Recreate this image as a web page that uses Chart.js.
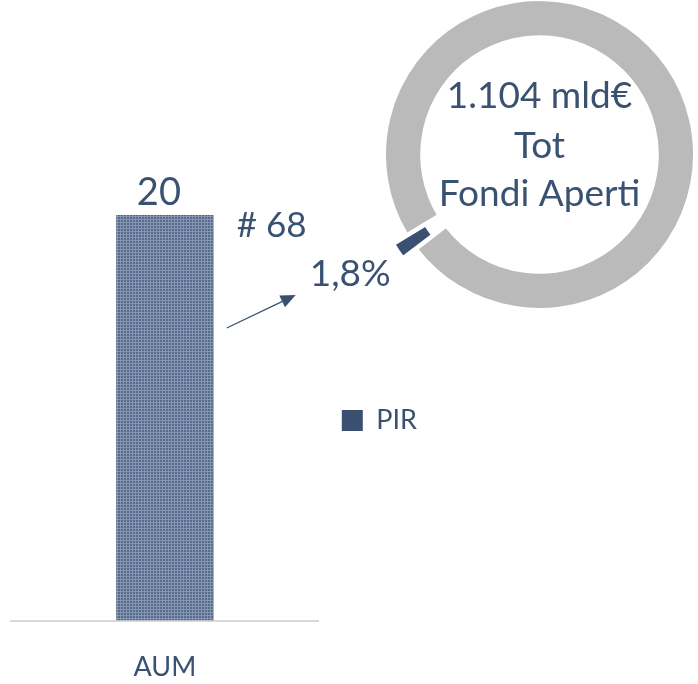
<!DOCTYPE html>
<html><head><meta charset="utf-8">
<script src="https://cdn.jsdelivr.net/npm/chart.js@4.4.1/dist/chart.umd.min.js"></script>
<style>
html,body{margin:0;padding:0;background:#fff;}
#wrap{position:relative;width:698px;height:684px;overflow:hidden;background:#fff;}
#bar{position:absolute;left:0;top:0;}
#ring{position:absolute;left:381px;top:0;}
</style></head><body>
<div id="wrap"><canvas id="bar" width="698" height="684"></canvas><canvas id="ring" width="317" height="309"></canvas></div>
<script>
// ---- data ----
const categories = ['AUM'];
const seriesLabel = 'PIR';
const pirAum = [20];
const fundCount = ['# 68'];
const shareLabels = ['PIR', 'Altri Fondi Aperti'];
const shareValues = [1.8, 98.2];
const totalLines = ['1.104 mld€', 'Tot', 'Fondi Aperti'];

// ---- style ----
const FONT = 'Lato, "Open Sans", sans-serif';
const TEXT = '#3A5272';
const DARK = '#3A5070';
const GRAY = '#BABABA';

function makePattern() {
  const c = document.createElement('canvas');
  c.width = 3; c.height = 3;
  const g = c.getContext('2d');
  g.fillStyle = '#566b8d';
  g.fillRect(0, 0, 3, 3);
  g.fillStyle = '#8595b0';
  g.fillRect(0, 0, 3, 1);
  g.fillRect(0, 0, 1, 3);
  return g.createPattern(c, 'repeat');
}
const barPattern = makePattern();

const fmtPct = v => v.toLocaleString('it-IT', {minimumFractionDigits: 1, maximumFractionDigits: 1}) + '%';

const barNotes = {
  id: 'barNotes',
  afterDatasetsDraw(chart) {
    const ctx = chart.ctx;
    const bar = chart.getDatasetMeta(0).data[0];
    const right = bar.x + bar.width / 2;
    ctx.save();
    ctx.fillStyle = TEXT;
    ctx.textBaseline = 'alphabetic';
    ctx.textAlign = 'center';
    ctx.font = '38px ' + FONT;
    ctx.fillText(String(pirAum[0]), bar.x - 6, bar.y - 10);
    ctx.textAlign = 'left';
    ctx.font = '35px ' + FONT;
    ctx.fillText(fundCount[0], right + 23, bar.y + 22);
    ctx.font = '37px ' + FONT;
    ctx.fillText(fmtPct(shareValues[0]), right + 96, bar.y + 71);
    // arrow
    const x0 = right + 13, y0 = bar.y + 113, x1 = right + 82, y1 = bar.y + 80;
    const ang = Math.atan2(y1 - y0, x1 - x0);
    ctx.strokeStyle = DARK;
    ctx.lineWidth = 1.3;
    ctx.beginPath();
    ctx.moveTo(x0, y0);
    ctx.lineTo(x1 - Math.cos(ang) * 10, y1 - Math.sin(ang) * 10);
    ctx.stroke();
    ctx.beginPath();
    ctx.moveTo(x1, y1);
    ctx.lineTo(x1 - Math.cos(ang) * 15 + Math.sin(ang) * 6.5, y1 - Math.sin(ang) * 15 - Math.cos(ang) * 6.5);
    ctx.lineTo(x1 - Math.cos(ang) * 15 - Math.sin(ang) * 6.5, y1 - Math.sin(ang) * 15 + Math.cos(ang) * 6.5);
    ctx.closePath();
    ctx.fillStyle = DARK;
    ctx.fill();
    ctx.restore();
  }
};

new Chart(document.getElementById('bar'), {
  type: 'bar',
  data: {
    labels: categories,
    datasets: [{
      label: seriesLabel,
      data: pirAum,
      backgroundColor: barPattern,
      borderWidth: 0,
      barPercentage: 0.317,
      categoryPercentage: 1
    }]
  },
  options: {
    responsive: false,
    animation: false,
    devicePixelRatio: 1,
    layout: {padding: {left: 11, top: 128, right: 271, bottom: -29}},
    plugins: {
      legend: {
        position: 'right',
        align: 'center',
        labels: {
          padding: 23, boxWidth: 21, boxHeight: 21,
          color: TEXT,
          font: {family: FONT, size: 27},
          generateLabels: () => [{text: seriesLabel, fillStyle: DARK, strokeStyle: DARK, lineWidth: 0, hidden: false, datasetIndex: 0, fontColor: TEXT}]
        }
      },
      tooltip: {enabled: false}
    },
    scales: {
      x: {
        grid: {display: false, drawTicks: false},
        border: {display: true, color: '#D9D9D9', width: 2},
        ticks: {color: TEXT, font: {family: FONT, size: 27}, padding: 30}
      },
      y: {display: false, min: 0, max: 24.29}
    }
  },
  plugins: [barNotes]
});

const centerText = {
  id: 'centerText',
  afterDraw(chart) {
    const ctx = chart.ctx;
    const a = chart.chartArea;
    const cx = (a.left + a.right) / 2, cy = (a.top + a.bottom) / 2;
    ctx.save();
    ctx.fillStyle = TEXT;
    ctx.textAlign = 'center';
    ctx.textBaseline = 'alphabetic';
    ctx.font = '37px ' + FONT;
    const offs = [-46.5, 3.5, 51.5];
    totalLines.forEach((t, i) => ctx.fillText(t, cx, cy + offs[i]));
    ctx.restore();
  }
};

new Chart(document.getElementById('ring'), {
  type: 'doughnut',
  data: {
    labels: shareLabels,
    datasets: [{
      data: shareValues,
      backgroundColor: [DARK, GRAY],
      borderColor: '#ffffff',
      borderWidth: 3,
      offset: [34, 0],
      hoverOffset: 0
    }]
  },
  options: {
    responsive: false,
    animation: false,
    devicePixelRatio: 1,
    radius: 155,
    cutout: '76%',
    rotation: 232.4,
    plugins: {legend: {display: false}, tooltip: {enabled: false}}
  },
  plugins: [centerText]
});
</script>
</body></html>
